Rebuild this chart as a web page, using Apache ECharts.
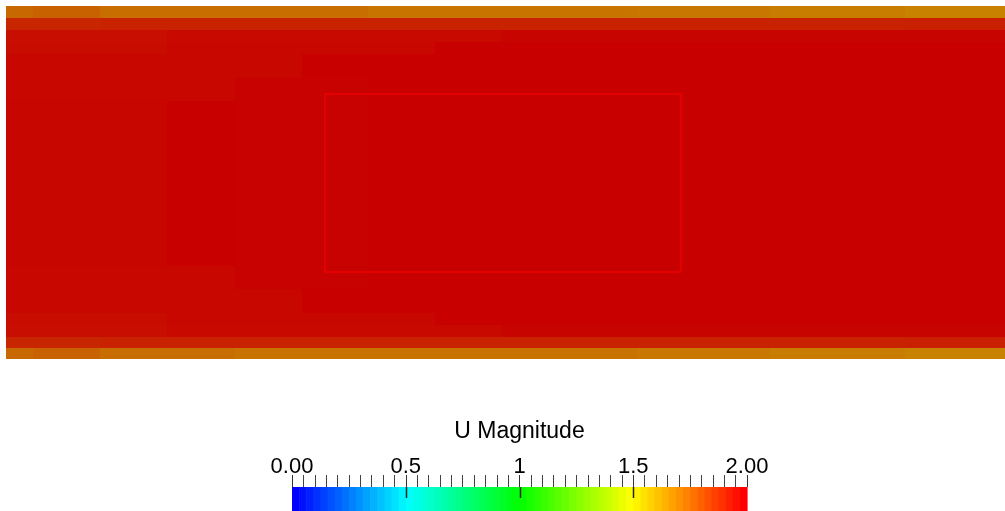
<!DOCTYPE html>
<html><head><meta charset="utf-8">
<script src="https://cdn.jsdelivr.net/npm/echarts@6/dist/echarts.min.js"></script>
<style>html,body{margin:0;padding:0;background:#fff}#c{width:1005px;height:511px}</style>
</head><body><div id="c"></div>
<script>
// Mesh cell edges (domain units, x to the right, y downward from the top wall)
const xEdges = [0, 27, 94, 161, 229, 296, 362, 429, 496, 564, 631, 698, 764, 831, 899, 966, 999];
const yEdges = [0, 12, 24, 36, 48, 71.5, 95, 118.5, 142, 165.5, 189, 212.5, 236, 259.5, 283, 306.5, 319, 331, 342, 353];

// U magnitude per cell (rows top -> bottom, 16 columns left -> right)
const uMagnitude = [
  [1.740,1.755,1.725,1.725,1.725,1.725,1.710,1.710,1.710,1.710,1.700,1.700,1.690,1.690,1.675,1.675],
  [1.905,1.905,1.915,1.915,1.915,1.915,1.915,1.915,1.915,1.915,1.915,1.915,1.915,1.915,1.920,1.920],
  [1.965,1.965,1.965,1.978,1.978,1.978,1.978,1.978,1.990,1.990,1.990,1.990,1.990,1.990,1.990,1.990],
  [1.970,1.970,1.970,1.980,1.980,1.980,1.980,2.000,2.000,2.000,2.000,2.000,2.000,2.000,2.000,2.000],
  [1.980,1.980,1.980,1.980,1.980,2.000,2.000,2.000,2.000,2.000,2.000,2.000,2.000,2.000,2.000,2.000],
  [1.980,1.980,1.980,1.980,1.995,1.995,2.000,2.000,2.000,2.000,2.000,2.000,2.000,2.000,2.000,2.000],
  [1.984,1.984,1.984,2.000,1.996,1.996,2.000,2.000,2.000,2.000,2.000,2.000,2.000,2.000,2.000,2.000],
  [1.984,1.984,1.984,2.000,1.996,1.996,2.000,2.000,2.000,2.000,2.000,2.000,2.000,2.000,2.000,2.000],
  [1.984,1.984,1.984,2.000,1.996,1.996,2.000,2.000,2.000,2.000,2.000,2.000,2.000,2.000,2.000,2.000],
  [1.984,1.984,1.984,2.000,1.996,1.996,2.000,2.000,2.000,2.000,2.000,2.000,2.000,2.000,2.000,2.000],
  [1.984,1.984,1.984,2.000,1.996,1.996,2.000,2.000,2.000,2.000,2.000,2.000,2.000,2.000,2.000,2.000],
  [1.984,1.984,1.984,2.000,1.996,1.996,2.000,2.000,2.000,2.000,2.000,2.000,2.000,2.000,2.000,2.000],
  [1.984,1.984,1.984,2.000,1.996,1.996,2.000,2.000,2.000,2.000,2.000,2.000,2.000,2.000,2.000,2.000],
  [1.980,1.980,1.980,1.980,1.995,1.995,2.000,2.000,2.000,2.000,2.000,2.000,2.000,2.000,2.000,2.000],
  [1.980,1.980,1.980,1.980,1.980,2.000,2.000,2.000,2.000,2.000,2.000,2.000,2.000,2.000,2.000,2.000],
  [1.970,1.970,1.970,1.980,1.980,1.980,1.980,2.000,2.000,2.000,2.000,2.000,2.000,2.000,2.000,2.000],
  [1.965,1.965,1.965,1.978,1.978,1.978,1.978,1.978,1.990,1.990,1.990,1.990,1.990,1.990,1.990,1.990],
  [1.905,1.905,1.915,1.915,1.915,1.915,1.915,1.915,1.915,1.915,1.915,1.915,1.915,1.915,1.920,1.920],
  [1.740,1.755,1.725,1.725,1.715,1.715,1.715,1.715,1.715,1.715,1.700,1.700,1.690,1.690,1.675,1.675]
];

// Obstacle outline (domain units)
const obstacleX = [319, 675];
const obstacleY = [88, 266];

// Colour bar
const colorBarTicks = [0, 0.5, 1, 1.5, 2];
const colorBarLabels = ['0.00', '0.5', '1', '1.5', '2.00'];
const colorBarInnerTicks = [0.5, 1, 1.5];
const colorBarStops = ['#0000ff', '#00ffff', '#00ff00', '#ffff00', '#ff0000'];
const colorBarSteps = 64;
const shadingFactor = 0.784;

function shade(hex, f) {
  const n = parseInt(hex.slice(1), 16);
  const r = Math.round(((n >> 16) & 255) * f), g = Math.round(((n >> 8) & 255) * f), b = Math.round((n & 255) * f);
  return 'rgb(' + r + ',' + g + ',' + b + ')';
}

const cells = [];
uMagnitude.forEach((row, r) => row.forEach((v, c) => {
  cells.push([xEdges[c], xEdges[c + 1], yEdges[r], yEdges[r + 1], v]);
}));

const outline = [
  [obstacleX[0], obstacleY[0]], [obstacleX[1], obstacleY[0]],
  [obstacleX[1], obstacleY[1]], [obstacleX[0], obstacleY[1]], [obstacleX[0], obstacleY[0]]
];

const BAR_W = 455;
const stepW = BAR_W / colorBarSteps;
const chart = echarts.init(document.getElementById('c'), null, { renderer: 'canvas' });
const FONT = 'Liberation Sans, Arial, sans-serif';
chart.setOption({
  animation: false,
  backgroundColor: '#ffffff',
  grid: [
    { left: 6, top: 6, width: 999, height: 353 },
    { left: 292, top: 487, width: BAR_W, height: 24 }
  ],
  xAxis: [
    { gridIndex: 0, type: 'value', min: 0, max: 999, show: false },
    {
      gridIndex: 1, type: 'value', min: 0, max: 2, interval: 0.5, position: 'top',
      axisLine: { show: true, lineStyle: { color: 'rgba(0,0,0,0)', width: 0 } },
      splitLine: { show: false },
      axisTick: { show: true, length: 12, lineStyle: { color: '#333', width: 1 } },
      minorTick: { show: true, splitNumber: 10, length: 12, lineStyle: { color: '#444', width: 1 } },
      axisLabel: {
        show: true, fontSize: 22, color: '#000', fontFamily: FONT, margin: 9,
        formatter: v => { const i = colorBarTicks.indexOf(v); return i < 0 ? '' : colorBarLabels[i]; }
      },
      name: 'U Magnitude', nameLocation: 'middle', nameGap: 44,
      nameTextStyle: { fontSize: 23, color: '#000', fontFamily: FONT }
    }
  ],
  yAxis: [
    { gridIndex: 0, type: 'value', min: 0, max: 353, inverse: true, show: false },
    { gridIndex: 1, type: 'value', min: 0, max: 24, inverse: true, show: false }
  ],
  visualMap: [
    {
      type: 'continuous', show: false, seriesIndex: 0, dimension: 4, min: 0, max: 2,
      inRange: { color: colorBarStops.map(c => shade(c, shadingFactor)) }
    },
    {
      type: 'piecewise', seriesIndex: [], min: 0, max: 2, splitNumber: colorBarSteps,
      orient: 'horizontal', left: 292, top: 487, padding: 0, z: 1,
      itemWidth: stepW + 0.6, itemHeight: 24, itemGap: -0.6, itemSymbol: 'rect',
      showLabel: false, selectedMode: false, hoverLink: false,
      inRange: { color: colorBarStops }
    }
  ],
  series: [
    {
      type: 'custom', xAxisIndex: 0, yAxisIndex: 0, silent: true,
      dimensions: ['x0', 'x1', 'y0', 'y1', 'U'],
      encode: { x: [0, 1], y: [2, 3] },
      data: cells,
      renderItem: (params, api) => {
        const p0 = api.coord([api.value(0), api.value(2)]);
        const p1 = api.coord([api.value(1), api.value(3)]);
        const x0 = Math.round(Math.min(p0[0], p1[0])), x1 = Math.round(Math.max(p0[0], p1[0]));
        const y0 = Math.round(Math.min(p0[1], p1[1])), y1 = Math.round(Math.max(p0[1], p1[1]));
        return { type: 'rect', shape: { x: x0, y: y0, width: x1 - x0, height: y1 - y0 }, style: { fill: api.visual('color') } };
      }
    },
    {
      type: 'line', xAxisIndex: 0, yAxisIndex: 0, silent: true, symbol: 'none', z: 5,
      data: outline, lineStyle: { color: '#ee0000', width: 1.5 }
    },
    {
      type: 'custom', xAxisIndex: 1, yAxisIndex: 1, silent: true, z: 20,
      data: colorBarInnerTicks,
      renderItem: (params, api) => {
        const a = api.coord([api.value(0), 0]);
        const b = api.coord([api.value(0), 11]);
        const x = Math.round(a[0]) + 0.5;
        return { type: 'line', shape: { x1: x, y1: a[1], x2: x, y2: b[1] }, style: { stroke: '#222', lineWidth: 1.5 } };
      }
    }
  ]
});
</script></body></html>
